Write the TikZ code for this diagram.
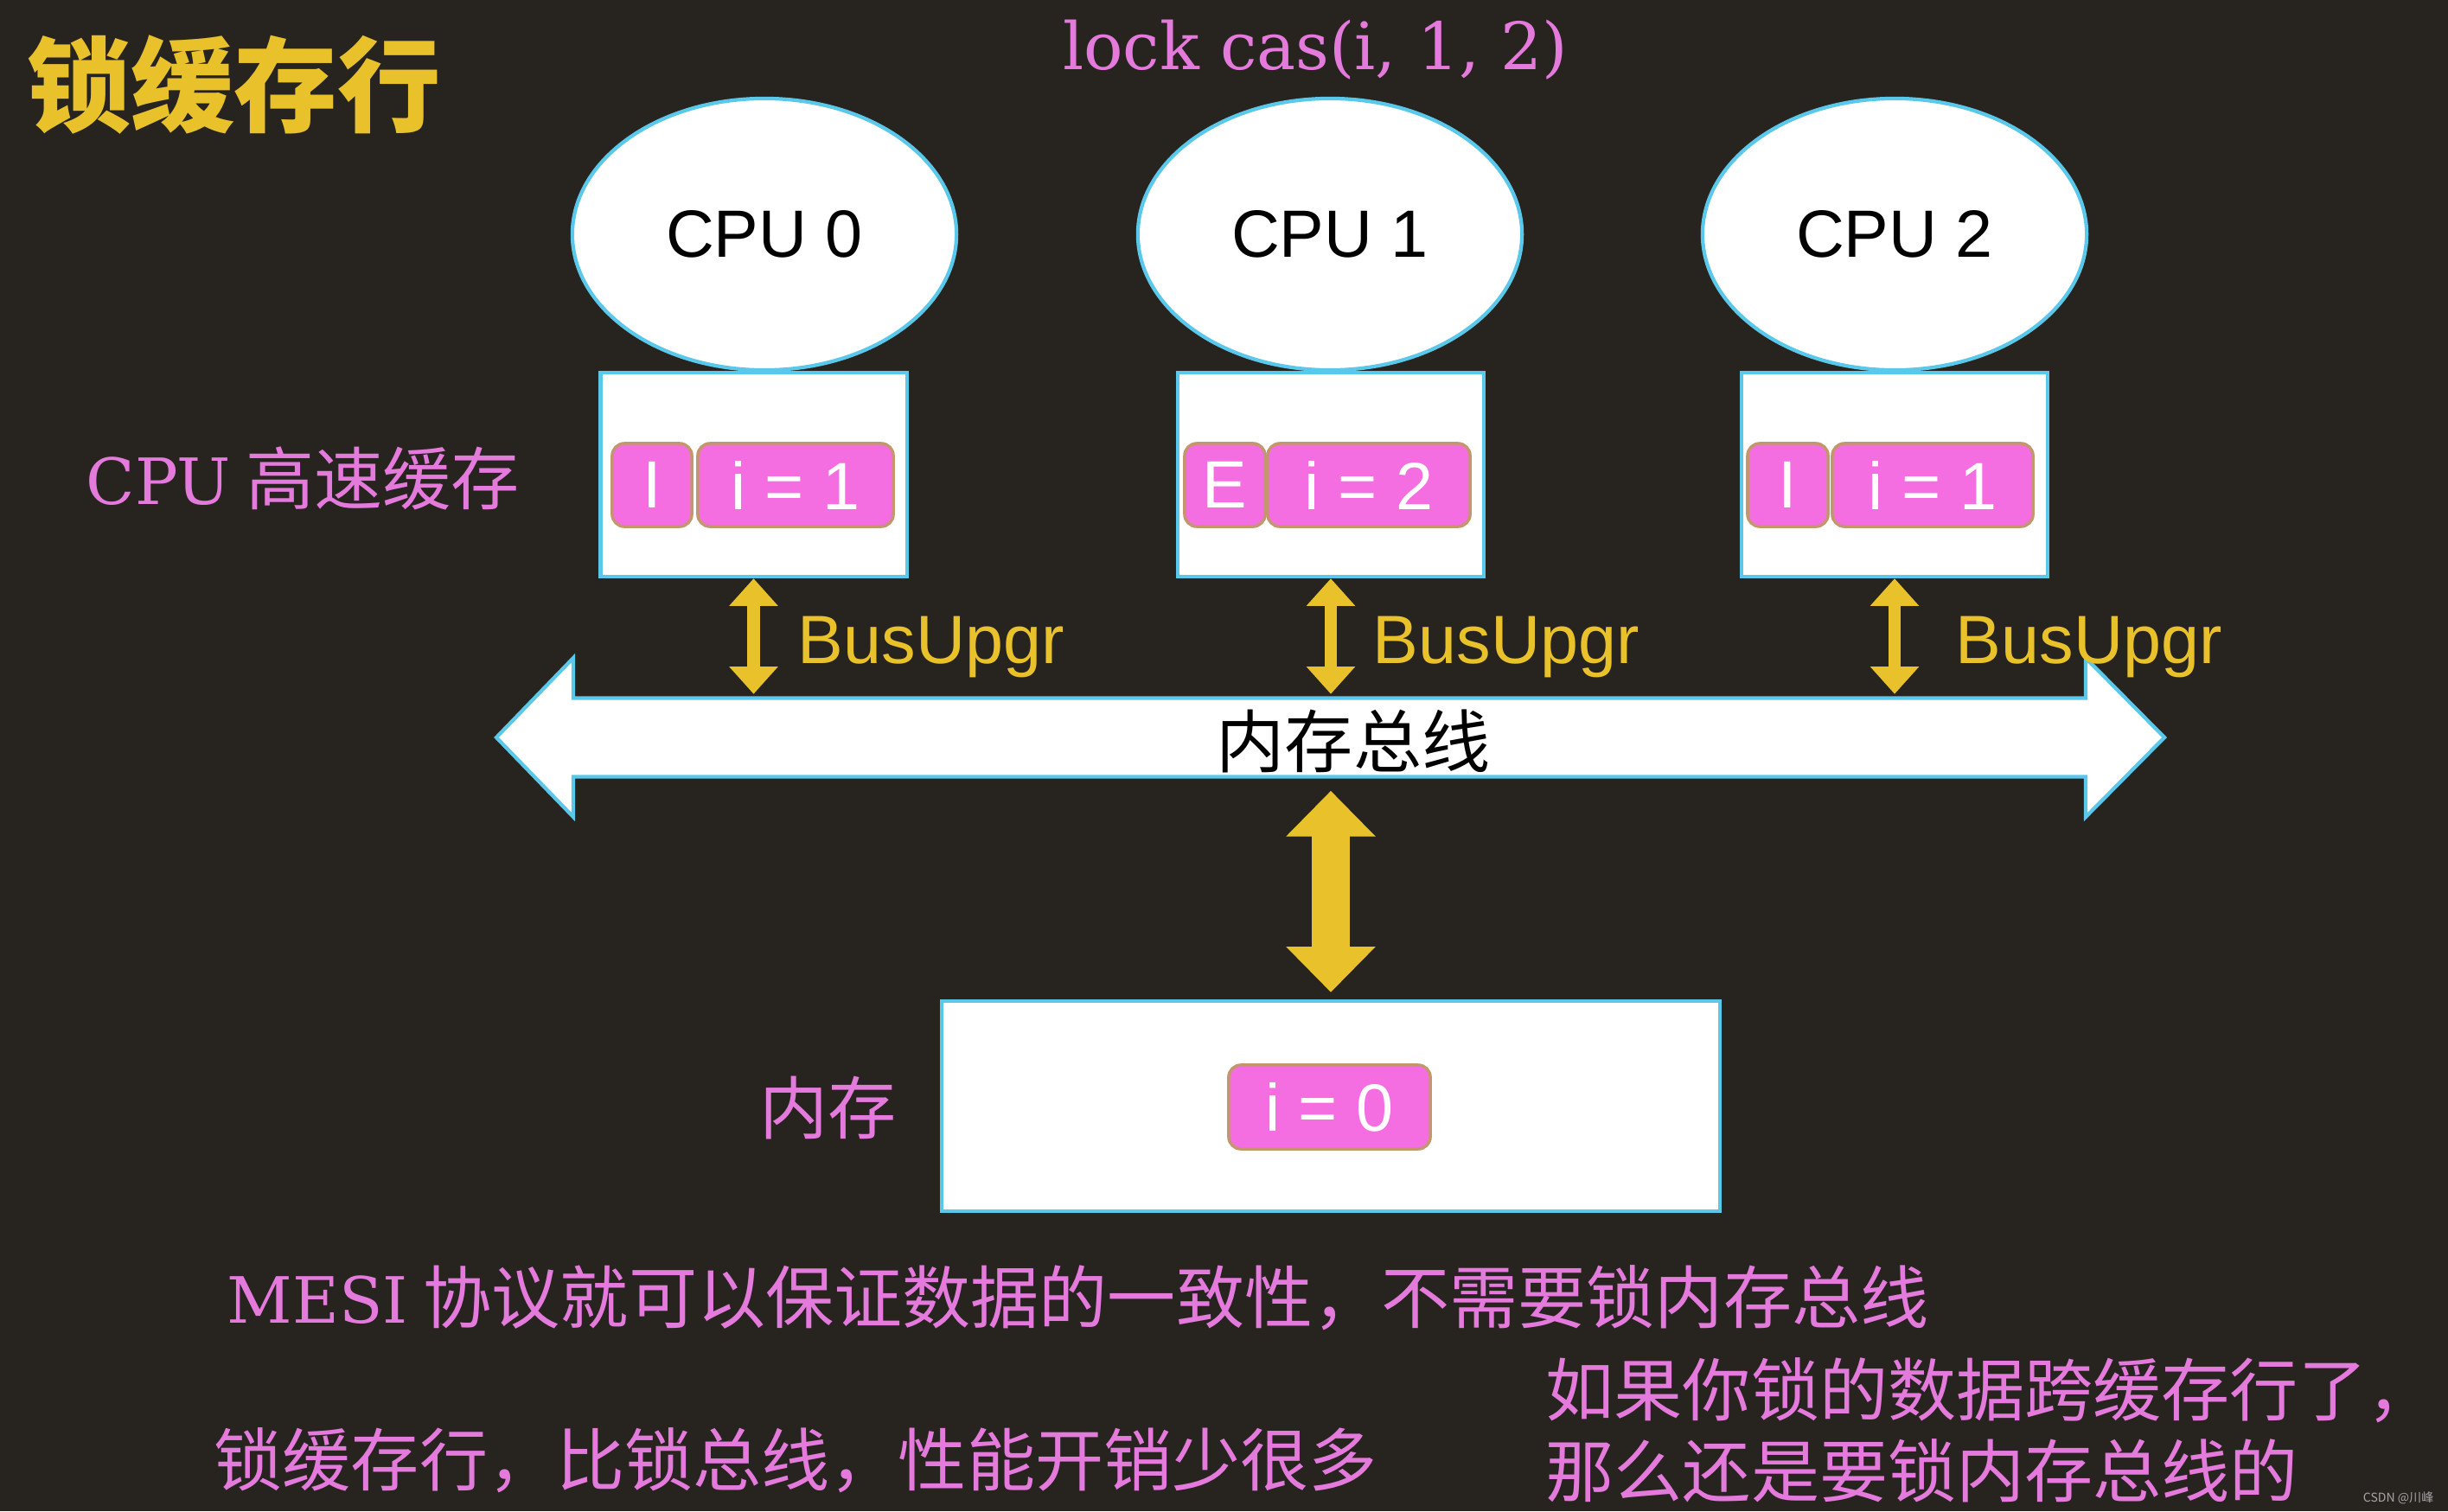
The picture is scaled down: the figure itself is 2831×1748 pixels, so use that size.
\documentclass[tikz,border=0pt]{standalone}
\usepackage{fontspec}
\setmainfont{Liberation Sans}
\newfontfamily\dser{DejaVu Serif}
\newfontfamily\cjk{Noto Sans CJK SC}
\usetikzlibrary{shapes.geometric,arrows.meta}
\definecolor{bgc}{RGB}{39,35,31}
\definecolor{ylw}{RGB}{232,193,43}
\definecolor{pinktxt}{RGB}{228,122,220}
\definecolor{cellfill}{RGB}{245,110,225}
\definecolor{cellline}{RGB}{196,150,110}
\definecolor{cyanl}{RGB}{90,200,235}
\newcommand\latn[1]{{\dser\fontsize{21pt}{25pt}\selectfont #1}}
\begin{document}
\begin{tikzpicture}[x=0.01cm,y=-0.01cm,
 cpu/.style={ellipse, draw=cyanl, line width=1.2pt, fill=white, minimum width=4.44cm, minimum height=3.14cm, inner sep=0pt, font=\fontsize{22pt}{26pt}\selectfont},
 cache/.style={rectangle, draw=cyanl, line width=1.2pt, fill=white, minimum width=3.54cm, minimum height=2.36cm, inner sep=0pt},
 cell/.style={rectangle, rounded corners=4pt, draw=cellline, line width=1pt, fill=cellfill, text=white, minimum height=0.96cm, inner sep=0pt, font=\fontsize{22pt}{26pt}\selectfont},
 busup/.style={text=ylw, anchor=base west, inner sep=0pt, font=\fontsize{22.5pt}{27pt}\selectfont},
 pinklbl/.style={text=pinktxt, anchor=base west, inner sep=0pt, font=\cjk\fontsize{22.5pt}{27pt}\selectfont},
 smallarr/.style={draw=ylw, line width=4.2pt, {Triangle[width=15.5pt,length=9pt]}-{Triangle[width=15.5pt,length=9pt]}},
 bigarr/.style={draw=ylw, line width=12.5pt, {Triangle[width=28.5pt,length=15pt]}-{Triangle[width=28.5pt,length=15pt]}},
]
\useasboundingbox (0,0) rectangle (2831,1748);
\fill[bgc] (0,0) rectangle (2831,1748);

% title and instruction
\node[anchor=base west, inner sep=0pt, text=ylw, font=\cjk\bfseries\fontsize{34pt}{40pt}\selectfont] (title) at (31,143) {锁缓存行};
\node[anchor=base, inner sep=0pt, text=pinktxt, font=\dser\fontsize{21.5pt}{26pt}\selectfont] (lock) at (1521,80) {lock cas(i, 1, 2)};

% CPUs
\node[cpu] (p0) at (884,271) {CPU 0};
\node[cpu] (p1) at (1538,271) {CPU 1};
\node[cpu] (p2) at (2191,271) {CPU 2};

% caches
\node[cache] (c0) at (871.5,549) {};
\node[cache] (c1) at (1539,549) {};
\node[cache] (c2) at (2191,549) {};

\node[cell, minimum width=0.92cm] (s0) at (754,561) {I};
\node[cell, minimum width=2.26cm] (v0) at (920,561) {i = 1};
\node[cell, minimum width=0.93cm] (s1) at (1416.5,561) {E};
\node[cell, minimum width=2.34cm] (v1) at (1583,561) {i = 2};
\node[cell, minimum width=0.93cm] (s2) at (2067.5,561) {I};
\node[cell, minimum width=2.32cm] (v2) at (2235,561) {i = 1};

\node[pinklbl] (cachelbl) at (99,583) {\latn{CPU} 高速缓存};

% bus
\node[minimum width=17.49cm, minimum height=0.91cm, inner sep=0pt] (bus) at (1538.5,853) {};
\filldraw[fill=white, draw=cyanl, line width=1.2pt, line join=miter]
  (574,853) -- (663,761) -- (663,807.5) -- (2412,807.5) -- (2412,761) -- (2503,853)
  -- (2412,945) -- (2412,898.5) -- (663,898.5) -- (663,945) -- cycle;
\node[anchor=base, inner sep=0pt, text=black, font=\cjk\fontsize{22.5pt}{27pt}\selectfont] (buslbl) at (1565,887) {内存总线};

% memory
\node[cache, minimum width=9cm, minimum height=2.43cm] (mem) at (1539,1279.5) {};
\node[cell, minimum width=2.33cm, minimum height=0.97cm] (m0) at (1537.5,1280.5) {i = 0};
\node[pinklbl] (memlbl) at (878,1311) {内存};

% arrows
\draw[smallarr, shorten >=0.04cm] (c0.south) -- (c0.south |- bus.north);
\draw[smallarr, shorten >=0.04cm] (c1.south) -- (c1.south |- bus.north);
\draw[smallarr, shorten >=0.04cm] (c2.south) -- (c2.south |- bus.north);
\draw[bigarr, shorten <=0.155cm, shorten >=0.08cm] (mem.north |- bus.south) -- (mem.north);

\node[busup] (bu0) at (922,767) {BusUpgr};
\node[busup] (bu1) at (1587,767) {BusUpgr};
\node[busup] (bu2) at (2261,767) {BusUpgr};

% bottom notes
\node[pinklbl] (n1) at (262,1530) {\latn{MESI} 协议就可以保证数据的一致性，不需要锁内存总线};
\node[pinklbl] (n2) at (247,1718) {锁缓存行，比锁总线，性能开销少很多};
\node[pinklbl] (n3) at (1787,1637) {如果你锁的数据跨缓存行了，};
\node[pinklbl] (n4) at (1787,1731) {那么还是要锁内存总线的};

\node[anchor=base east, inner sep=0pt, text=gray!70, font=\cjk\fontsize{4pt}{5pt}\selectfont] (wm) at (2815,1737) {CSDN @川峰};
\end{tikzpicture}
\end{document}
